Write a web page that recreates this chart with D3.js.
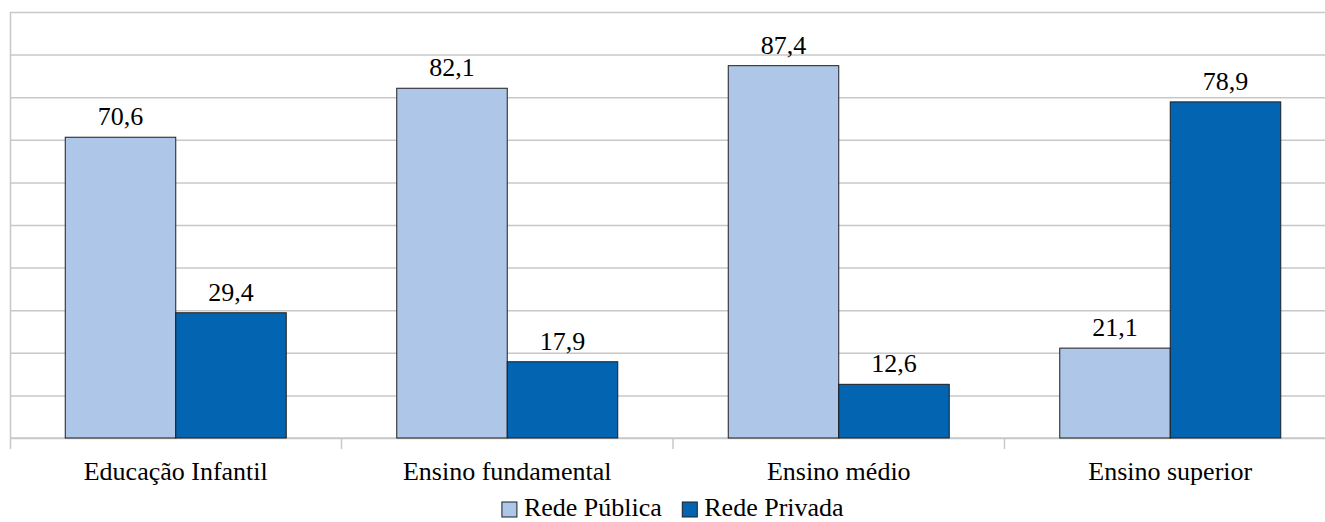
<!DOCTYPE html>
<html>
<head>
<meta charset="utf-8">
<script src="https://cdn.jsdelivr.net/npm/d3@7"></script>
<style>
  html, body { margin: 0; padding: 0; background: #fff; }
  svg { display: block; }
</style>
</head>
<body>
<script>
// Distribuição das matrículas por rede de ensino (%)
const categories = ["Educação Infantil", "Ensino fundamental", "Ensino médio", "Ensino superior"];
const seriesNames = ["Rede Pública", "Rede Privada"];
const redePublica = [70.6, 82.1, 87.4, 21.1];
const redePrivada = [29.4, 17.9, 12.6, 78.9];
const yTicks = [0, 10, 20, 30, 40, 50, 60, 70, 80, 90, 100];

const W = 1325, H = 522;
const colors = ["#aec6e8", "#0365b2"];
const serif = "'Liberation Serif', 'Times New Roman', Times, 'DejaVu Serif', serif";
const fmt = v => v.toFixed(1).replace(".", ",");

const svg = d3.select("body").append("svg")
  .attr("width", W).attr("height", H)
  .attr("font-family", serif);

const x0 = d3.scaleBand().domain(categories).range([10, 1336]).paddingInner(0).paddingOuter(0);
const x1 = d3.scaleBand().domain(seriesNames)
  .range([x0.bandwidth() / 6, x0.bandwidth() * 5 / 6]).padding(0);
const y = d3.scaleLinear().domain([0, 100]).range([438, 12]);

const rows = categories.map((c, i) => ({ cat: c, vals: [redePublica[i], redePrivada[i]] }));

// Linhas de grade horizontais
svg.append("g")
  .attr("transform", "translate(10,0)")
  .call(d3.axisLeft(y).tickValues(yTicks).tickSize(-(1336 - 10)).tickFormat(""))
  .call(g => g.select(".domain").remove())
  .call(g => g.selectAll(".tick line").attr("stroke", "#c8c8c8").attr("stroke-width", 1.5));

// Eixo vertical (linha à esquerda)
svg.append("line")
  .attr("x1", 10.5).attr("x2", 10.5).attr("y1", y(100)).attr("y2", 449)
  .attr("stroke", "#c8c8c8").attr("stroke-width", 1.5);

// Eixo das categorias, com marcas nas divisões
const xAxis = svg.append("g").attr("transform", `translate(0,${y(0)})`);
xAxis.append("line")
  .attr("x1", 10).attr("x2", 1336).attr("y1", 0).attr("y2", 0)
  .attr("stroke", "#c8c8c8").attr("stroke-width", 1.5);
xAxis.selectAll("line.div")
  .data(categories.slice(1))
  .join("line")
  .attr("class", "div")
  .attr("x1", d => x0(d)).attr("x2", d => x0(d))
  .attr("y1", 0).attr("y2", 11)
  .attr("stroke", "#c8c8c8").attr("stroke-width", 1.5);
xAxis.selectAll("text")
  .data(categories)
  .join("text")
  .attr("x", d => x0(d) + x0.bandwidth() / 2)
  .attr("y", 42)
  .attr("text-anchor", "middle")
  .attr("font-family", serif)
  .attr("font-size", 26)
  .attr("fill", "#000")
  .text(d => d);

// Barras
const groups = svg.append("g").selectAll("g")
  .data(rows)
  .join("g")
  .attr("transform", d => `translate(${x0(d.cat)},0)`);

groups.selectAll("rect")
  .data(d => d.vals.map((v, j) => ({ name: seriesNames[j], v, j })))
  .join("rect")
  .attr("x", d => x1(d.name))
  .attr("width", x1.bandwidth())
  .attr("y", d => y(d.v))
  .attr("height", d => y(0) - y(d.v))
  .attr("fill", d => colors[d.j])
  .attr("stroke", "#1e1e1e")
  .attr("stroke-width", 1);

// Rótulos de valor
groups.selectAll("text")
  .data(d => d.vals.map((v, j) => ({ name: seriesNames[j], v, j })))
  .join("text")
  .attr("x", d => x1(d.name) + x1.bandwidth() / 2)
  .attr("y", d => y(d.v) - 12)
  .attr("text-anchor", "middle")
  .attr("font-family", serif)
  .attr("font-size", 26)
  .attr("fill", "#000")
  .text(d => fmt(d.v));

// Legenda
const legend = svg.append("g");
const items = legend.selectAll("g")
  .data(seriesNames)
  .join("g");
items.append("rect")
  .attr("width", 15).attr("height", 15)
  .attr("y", 502)
  .attr("fill", (d, i) => colors[i])
  .attr("stroke", "#1e1e1e").attr("stroke-width", 1);
items.append("text")
  .attr("x", 22).attr("y", 516)
  .attr("font-family", serif)
  .attr("font-size", 26)
  .attr("fill", "#000")
  .text(d => d);

// Distribui os itens lado a lado e centraliza
let offset = 0;
const gap = 20;
items.each(function () {
  const g = d3.select(this);
  g.attr("transform", `translate(${offset},0)`);
  offset += this.getBBox().width + gap;
});
const total = offset - gap;
const cx = (10 + 1336) / 2;
legend.attr("transform", `translate(${cx - total / 2},0)`);
</script>
</body>
</html>
